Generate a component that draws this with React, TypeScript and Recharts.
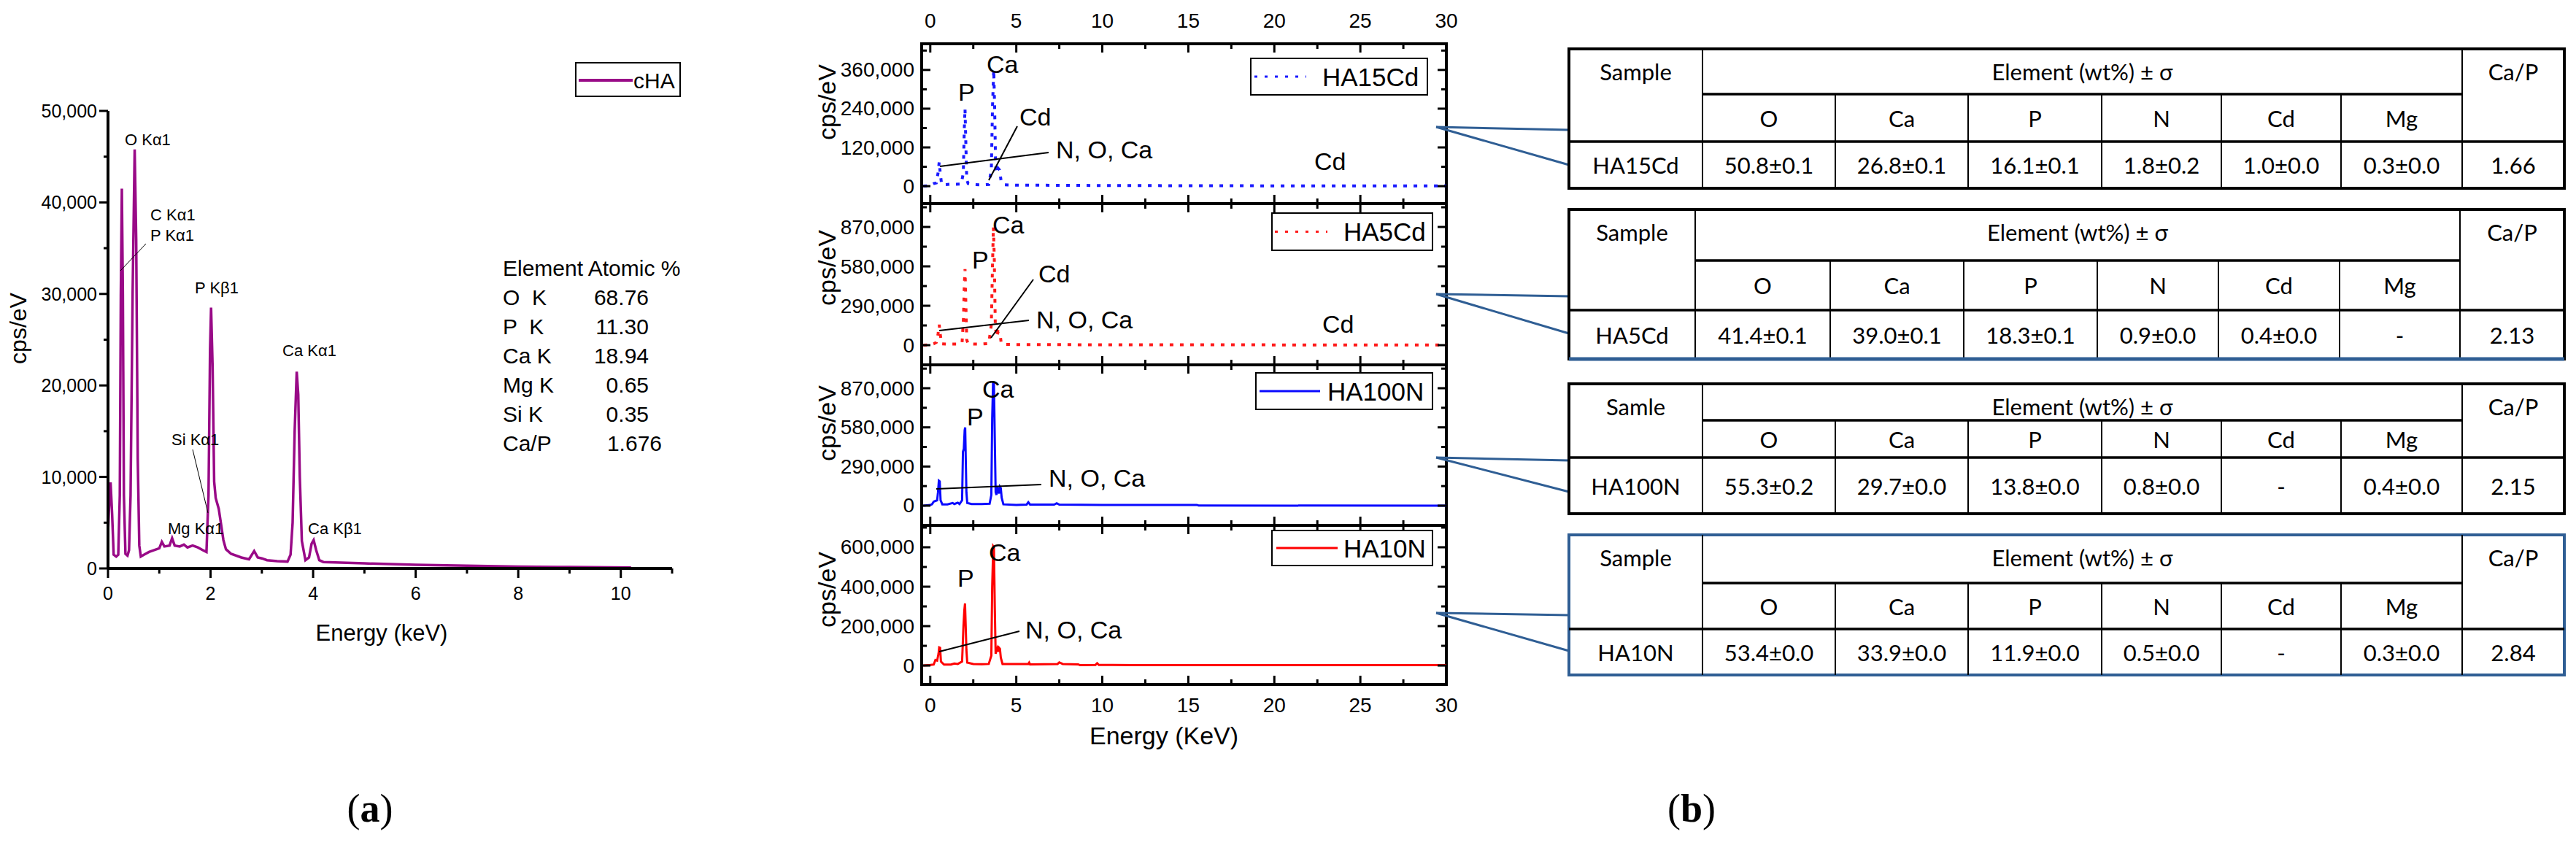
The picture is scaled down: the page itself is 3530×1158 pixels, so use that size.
import React from "react";
import { LineChart, Line, XAxis, YAxis, ReferenceArea } from "recharts";

const SANS = "'Liberation Sans', Arial, sans-serif";
const SERIF = "'Liberation Serif', 'Times New Roman', serif";
const TABLE_FONT = "Lato, 'Open Sans', sans-serif";
const PURPLE = "#990a87";
const STEEL = "#2f5e94";

// (a) cHA spectrum
const chaEnergy = [
  0, 0.03, 0.05, 0.08, 0.11, 0.16, 0.2, 0.23, 0.25, 0.27,
  0.29, 0.31, 0.34, 0.38, 0.41, 0.44, 0.48, 0.52, 0.55, 0.58,
  0.61, 0.64, 0.7, 0.8, 0.9, 1.0, 1.05, 1.1, 1.2, 1.25,
  1.3, 1.4, 1.48, 1.55, 1.65, 1.75, 1.85, 1.92, 1.96, 1.99,
  2.01, 2.04, 2.07, 2.1, 2.16, 2.2, 2.25, 2.3, 2.4, 2.6,
  2.75, 2.85, 2.92, 3.0, 3.1, 3.3, 3.5, 3.56, 3.6, 3.64,
  3.68, 3.71, 3.74, 3.78, 3.85, 3.92, 3.97, 4.01, 4.06, 4.12,
  4.2, 5.0, 6.0, 7.0, 8.0, 9.0, 10.2,
];
const chaCps = [
  4000, 8000, 9400, 6000, 1500, 1300, 1500, 8000, 30000, 41500,
  30000, 8000, 1600, 1400, 2000, 8000, 30000, 45800, 36000, 12000,
  2500, 1300, 1500, 1800, 2000, 2200, 2900, 2400, 2500, 3300,
  2500, 2400, 2600, 2300, 2500, 2300, 2000, 1800, 8000, 24000,
  28500, 22000, 9500, 7700, 6500, 5000, 3100, 2100, 1600, 1200,
  1000, 1900, 1200, 1100, 900, 800, 750, 1500, 5000, 15000,
  21500, 19000, 10000, 3000, 900, 1200, 2700, 3100, 2000, 900,
  700, 550, 400, 300, 200, 150, 100,
];
const chaXTicks = [0, 1, 2, 3, 4, 5, 6, 7, 8, 9, 10, 11];
const chaYTicks = [0, 5000, 10000, 15000, 20000, 25000, 30000, 35000, 40000, 45000, 50000];

const atomicElements = ["O  K", "P  K", "Ca K", "Mg K", "Si K", "Ca/P"];
const atomicValues = ["68.76", "11.30", "18.94", "0.65", "0.35", "1.676"];

// (b) spectra
const ha15Energy = [
  -0.4, 0, 0.2, 0.35, 0.45, 0.52, 0.58, 0.66, 0.9, 1.2, 1.5,
  1.8, 1.92, 1.98, 2.02, 2.06, 2.12, 2.2, 2.5, 3.0, 3.4,
  3.55, 3.62, 3.69, 3.74, 3.8, 3.88, 3.95, 4.03, 4.12, 4.3,
  5, 6, 8, 10, 15, 20, 25, 30,
];
const ha15Cps = [
  0, 2000, 8000, 10000, 40000, 75000, 40000, 6000, 5000, 6000, 6000,
  7000, 40000, 180000, 240000, 150000, 20000, 8000, 5000, 4000, 5000,
  50000, 250000, 360000, 250000, 60000, 40000, 55000, 50000, 15000, 4000,
  3000, 3000, 2500, 2000, 1500, 1000, 800, 600,
];

const ha5Energy = [
  -0.4, 0, 0.2, 0.35, 0.45, 0.52, 0.58, 0.66, 1.0, 1.5,
  1.85, 1.93, 1.98, 2.02, 2.06, 2.12, 2.2, 2.6, 3.0, 3.4,
  3.55, 3.62, 3.67, 3.72, 3.78, 3.85, 3.95, 4.05, 4.12, 4.3,
  6, 10, 20, 30,
];
const ha5Cps = [
  0, 2000, 10000, 20000, 80000, 150000, 80000, 10000, 8000, 8000,
  20000, 200000, 450000, 560000, 350000, 40000, 10000, 8000, 8000, 12000,
  150000, 600000, 870000, 650000, 150000, 60000, 100000, 90000, 20000, 5000,
  4000, 3000, 2000, 1500,
];

const ha100Energy = [
  -0.4, 0, 0.1, 0.2, 0.3, 0.4, 0.45, 0.5, 0.55, 0.6,
  0.7, 1.0, 1.3, 1.4, 1.6, 1.7, 1.85, 1.9, 1.95, 2.0,
  2.03, 2.07, 2.1, 2.15, 2.4, 3.0, 3.45, 3.55, 3.6, 3.65,
  3.7, 3.75, 3.8, 3.85, 3.9, 3.95, 4.0, 4.05, 4.1, 4.15,
  4.25, 5.0, 5.6, 5.7, 5.8, 7.2, 7.35, 7.5, 10, 15.5,
  15.6, 30,
];
const ha100Cps = [
  0, 5000, 10000, 30000, 35000, 40000, 100000, 185000, 180000, 40000,
  10000, 10000, 20000, 12000, 22000, 12000, 40000, 400000, 420000, 560000,
  580000, 300000, 100000, 20000, 12000, 12000, 15000, 80000, 650000, 910000,
  910000, 500000, 100000, 80000, 140000, 110000, 90000, 140000, 130000, 60000,
  10000, 6000, 8000, 25000, 8000, 8000, 18000, 8000, 6000, 6000,
  1000, 0,
];

const ha10Energy = [
  -0.4, 0, 0.2, 0.3, 0.4, 0.48, 0.52, 0.57, 0.62, 0.8,
  1.2, 1.4, 1.6, 1.85, 1.93, 1.98, 2.02, 2.06, 2.1, 2.15,
  2.5, 3.0, 3.4, 3.55, 3.6, 3.66, 3.7, 3.75, 3.8, 3.85,
  3.9, 3.95, 4.0, 4.05, 4.1, 4.2, 5.7, 5.75, 5.8, 7.4,
  7.5, 7.7, 8.6, 8.7, 9.6, 9.7, 9.8, 12, 30,
];
const ha10Cps = [
  0, 3000, 5000, 28000, 25000, 60000, 92000, 90000, 20000, 5000,
  5000, 10000, 8000, 20000, 200000, 280000, 315000, 200000, 80000, 15000,
  8000, 7000, 8000, 50000, 400000, 605000, 600000, 300000, 60000, 80000,
  90000, 70000, 90000, 85000, 40000, 8000, 8000, 15000, 6000, 8000,
  16000, 8000, 6000, 2000, 3000, 12000, 3000, 2000, 2000,
];

const bXTicks = [0, 2.5, 5, 7.5, 10, 12.5, 15, 17.5, 20, 22.5, 25, 27.5, 30];

const sampleNames = ["HA15Cd", "HA5Cd", "HA100N", "HA10N"];
const sampleHeaders = ["Sample", "Sample", "Samle", "Sample"];
const elementCols = ["O", "Ca", "P", "N", "Cd", "Mg"];
const wtRows = [
  ["50.8±0.1", "26.8±0.1", "16.1±0.1", "1.8±0.2", "1.0±0.0", "0.3±0.0"],
  ["41.4±0.1", "39.0±0.1", "18.3±0.1", "0.9±0.0", "0.4±0.0", "-"],
  ["55.3±0.2", "29.7±0.0", "13.8±0.0", "0.8±0.0", "-", "0.4±0.0"],
  ["53.4±0.0", "33.9±0.0", "11.9±0.0", "0.5±0.0", "-", "0.3±0.0"],
];
const caPRatios = ["1.66", "2.13", "2.15", "2.84"];

const bPanels = [
  { energy: ha15Energy, cps: ha15Cps, color: "#1a1aff", dashed: true, yMin: -54000, yMax: 441000, majors: [0, 120000, 240000, 360000], minors: [60000, 180000, 300000, 420000] },
  { energy: ha5Energy, cps: ha5Cps, color: "#ff1a1a", dashed: true, yMin: -145000, yMax: 1042000, majors: [0, 290000, 580000, 870000], minors: [145000, 435000, 725000, 1015000] },
  { energy: ha100Energy, cps: ha100Cps, color: "#0a0aff", dashed: false, yMin: -146000, yMax: 1043000, majors: [0, 290000, 580000, 870000], minors: [145000, 435000, 725000, 1015000] },
  { energy: ha10Energy, cps: ha10Cps, color: "#ff0000", dashed: false, yMin: -96000, yMax: 711000, majors: [0, 200000, 400000, 600000], minors: [100000, 300000, 500000, 700000] },
];

// layout of panel (b) frames
const B_FRAMES = [
  { top: 60, h: 219 },
  { top: 279, h: 221 },
  { top: 500, h: 220 },
  { top: 720, h: 218 },
];

const toRows = (e: number[], v: number[]) => e.map((x, i) => ({ e: x, v: v[i] }));

function ATickX({ x, y, payload }: any) {
  const v = payload.value;
  const major = v % 2 === 0;
  return (
    <g>
      <line x1={x} y1={y} x2={x} y2={y + (major ? 13 : 7)} stroke="#000" strokeWidth={3} />
      {major && v <= 10 && (
        <text x={x} y={y + 34} textAnchor="middle" dominantBaseline="central" fontFamily={SANS} fontSize={25}>
          {v}
        </text>
      )}
    </g>
  );
}

function ATickY({ x, y, payload }: any) {
  const v = payload.value;
  const major = v % 10000 === 0;
  return (
    <g>
      <line x1={x} y1={y} x2={x - (major ? 12 : 6)} y2={y} stroke="#000" strokeWidth={3} />
      {major && (
        <text x={x - 15} y={y} textAnchor="end" dominantBaseline="central" fontFamily={SANS} fontSize={25}>
          {v.toLocaleString("en-US")}
        </text>
      )}
    </g>
  );
}

function ChaChart() {
  const rows = toRows(chaEnergy, chaCps);
  return (
    <LineChart width={960} height={900} data={rows} margin={{ top: 152, right: 39, bottom: 61, left: 0 }}>
      <XAxis
        dataKey="e"
        type="number"
        domain={[0, 11]}
        allowDataOverflow
        ticks={chaXTicks}
        interval={0}
        height={60}
        tickSize={0}
        tickMargin={0}
        tickLine={false}
        axisLine={{ stroke: "#000", strokeWidth: 4 }}
        tick={(t: any) => <ATickX {...t} />}
      />
      <YAxis
        type="number"
        domain={[0, 50000]}
        allowDataOverflow
        ticks={chaYTicks}
        interval={0}
        width={148}
        tickSize={0}
        tickMargin={0}
        tickLine={false}
        axisLine={{ stroke: "#000", strokeWidth: 4 }}
        tick={(t: any) => <ATickY {...t} />}
      />
      <Line dataKey="v" type="linear" stroke={PURPLE} strokeWidth={3.5} dot={false} isAnimationActive={false} />
    </LineChart>
  );
}

function BXTick({ x, y, payload, h, showTop, showBottom }: any) {
  const v = payload.value;
  const major = v % 5 === 0;
  const len = major ? 12 : 7;
  return (
    <g>
      <line x1={x} y1={y} x2={x} y2={y - len} stroke="#000" strokeWidth={3} />
      <line x1={x} y1={y - h} x2={x} y2={y - h + len} stroke="#000" strokeWidth={3} />
      {showBottom && major && (
        <text x={x} y={y + 28} textAnchor="middle" dominantBaseline="central" fontFamily={SANS} fontSize={28}>
          {v}
        </text>
      )}
      {showTop && major && (
        <text x={x} y={y - h - 32} textAnchor="middle" dominantBaseline="central" fontFamily={SANS} fontSize={28}>
          {v}
        </text>
      )}
    </g>
  );
}

function BYTick({ x, y, payload, w, majors }: any) {
  const v = payload.value;
  const major = majors.includes(v);
  const len = major ? 12 : 7;
  return (
    <g>
      <line x1={x} y1={y} x2={x + len} y2={y} stroke="#000" strokeWidth={3} />
      <line x1={x + w} y1={y} x2={x + w - len} y2={y} stroke="#000" strokeWidth={3} />
      {major && (
        <text x={x - 10} y={y} textAnchor="end" dominantBaseline="central" fontFamily={SANS} fontSize={28}>
          {v.toLocaleString("en-US")}
        </text>
      )}
    </g>
  );
}

function EdsPanel({ idx }: { idx: number }) {
  const p = bPanels[idx];
  const f = B_FRAMES[idx];
  const rows = toRows(p.energy, p.cps);
  const yTicks = [...p.majors, ...p.minors].sort((a, b) => a - b);
  return (
    <div style={{ position: "absolute", left: 1080, top: f.top - 60 }}>
      <LineChart width={922} height={60 + f.h + 100} data={rows} margin={{ top: 60, right: 20, bottom: 0, left: 0 }}>
        <XAxis
          dataKey="e"
          type="number"
          domain={[-0.5, 30]}
          allowDataOverflow
          ticks={bXTicks}
          interval={0}
          height={100}
          tickSize={0}
          tickMargin={0}
          tickLine={false}
          axisLine={false}
          tick={(t: any) => <BXTick {...t} h={f.h} showTop={idx === 0} showBottom={idx === 3} />}
        />
        <YAxis
          type="number"
          domain={[p.yMin, p.yMax]}
          allowDataOverflow
          ticks={yTicks}
          interval={0}
          width={183}
          tickSize={0}
          tickMargin={0}
          tickLine={false}
          axisLine={false}
          tick={(t: any) => <BYTick {...t} w={719} majors={p.majors} />}
        />
        <ReferenceArea x1={-0.5} x2={30} y1={p.yMin} y2={p.yMax} fill="none" fillOpacity={0} stroke="#000" strokeWidth={4} ifOverflow="visible" />
        <Line
          dataKey="v"
          type="linear"
          stroke={p.color}
          strokeWidth={p.dashed ? 4 : 3}
          strokeDasharray={p.dashed ? "5 9" : undefined}
          dot={false}
          isAnimationActive={false}
        />
      </LineChart>
    </div>
  );
}

function T(props: any) {
  const { children, ...rest } = props;
  return (
    <text dominantBaseline="central" textAnchor="middle" {...rest}>
      {children}
    </text>
  );
}

// table geometry
const COLS_A = [2150, 2333, 2515, 2697, 2880, 3044, 3208, 3374, 3514];
const COLS_B = [2150, 2323, 2508, 2691, 2874, 3040, 3206, 3371, 3514];
const TABLE_COLS = [COLS_A, COLS_B, COLS_A, COLS_A];
const TABLE_ROWS = [
  [67, 129, 194, 258],
  [287, 357, 425, 492],
  [526, 576, 627, 704],
  [733, 799, 862, 925],
];

function EdsTable({ i }: { i: number }) {
  const xs = TABLE_COLS[i];
  const [t, s, d, b] = TABLE_ROWS[i];
  const L = xs[0];
  const R = xs[8];
  const outer = i === 3 ? STEEL : "#000";
  const fs = 31;
  return (
    <g fontFamily={TABLE_FONT}>
      <rect x={L} y={t} width={R - L} height={b - t} fill="#fff" stroke={outer} strokeWidth={4} />
      <line x1={xs[1]} y1={t} x2={xs[1]} y2={b} stroke="#000" strokeWidth={2} />
      <line x1={xs[7]} y1={t} x2={xs[7]} y2={b} stroke="#000" strokeWidth={2} />
      {xs.slice(2, 7).map((x) => (
        <line key={x} x1={x} y1={s} x2={x} y2={b} stroke="#000" strokeWidth={2} />
      ))}
      <line x1={xs[1]} y1={s} x2={xs[7]} y2={s} stroke="#000" strokeWidth={3.5} />
      <line x1={L} y1={d} x2={R} y2={d} stroke="#000" strokeWidth={3.5} />
      {i === 1 && <line x1={L} y1={b} x2={R} y2={b} stroke={STEEL} strokeWidth={5} />}
      <T x={(L + xs[1]) / 2} y={t + 31} fontSize={fs}>{sampleHeaders[i]}</T>
      <T x={(xs[1] + xs[7]) / 2} y={t + 31} fontSize={fs}>Element (wt%) ± σ</T>
      <T x={(xs[7] + R) / 2} y={t + 31} fontSize={fs}>Ca/P</T>
      {elementCols.map((el, k) => (
        <T key={el} x={(xs[k + 1] + xs[k + 2]) / 2} y={(s + d) / 2} fontSize={fs}>{el}</T>
      ))}
      <T x={(L + xs[1]) / 2} y={(d + b) / 2} fontSize={fs}>{sampleNames[i]}</T>
      {wtRows[i].map((v, k) => (
        <T key={k} x={(xs[k + 1] + xs[k + 2]) / 2} y={(d + b) / 2} fontSize={fs}>{v}</T>
      ))}
      <T x={(xs[7] + R) / 2} y={(d + b) / 2} fontSize={fs}>{caPRatios[i]}</T>
    </g>
  );
}

const B_LEGENDS = [
  { x: 1714, y: 80, w: 242, h: 50, x1: 1719, x2: 1790, tx: 1812 },
  { x: 1743, y: 292, w: 220, h: 51, x1: 1747, x2: 1819, tx: 1841 },
  { x: 1721, y: 511, w: 242, h: 50, x1: 1726, x2: 1809, tx: 1819 },
  { x: 1743, y: 727, w: 220, h: 48, x1: 1749, x2: 1833, tx: 1841 },
];

const CONNECTORS = [
  [174, 178, 226],
  [403, 406, 457],
  [627, 631, 674],
  [840, 843, 892],
];

function Overlay() {
  const ann = { fontFamily: SANS, fontSize: 34 };
  const small = { fontFamily: SANS, fontSize: 22 };
  return (
    <svg width={3530} height={1158} style={{ position: "absolute", left: 0, top: 0 }}>
      {/* panel (a) titles */}
      <text x={25} y={450} transform="rotate(-90 25 450)" textAnchor="middle" dominantBaseline="central" fontFamily={SANS} fontSize={32}>
        cps/eV
      </text>
      <text x={523} y={867} textAnchor="middle" dominantBaseline="central" fontFamily={SANS} fontSize={31}>
        Energy (keV)
      </text>
      {/* cHA legend */}
      <rect x={789} y={86} width={143} height={46} fill="#fff" stroke="#000" strokeWidth={2} />
      <line x1={793} y1={110} x2={867} y2={110} stroke={PURPLE} strokeWidth={4} />
      <text x={868} y={121} fontFamily={SANS} fontSize={30}>cHA</text>
      {/* peak labels (a) */}
      <text x={171} y={199} {...small}>O Kα1</text>
      <text x={206} y={302} {...small}>C Kα1</text>
      <text x={206} y={330} {...small}>P Kα1</text>
      <line x1={200} y1={334} x2={165} y2={371} stroke="#000" strokeWidth={1} />
      <text x={267} y={402} {...small}>P Kβ1</text>
      <text x={387} y={488} {...small}>Ca Kα1</text>
      <text x={235} y={610} {...small}>Si Kα1</text>
      <line x1={264} y1={616} x2={285} y2={703} stroke="#000" strokeWidth={1} />
      <text x={230} y={732} {...small}>Mg Kα1</text>
      <text x={422} y={732} {...small}>Ca Kβ1</text>
      {/* atomic % */}
      <text x={689} y={378} fontFamily={SANS} fontSize={30}>Element Atomic %</text>
      {atomicElements.map((el, k) => (
        <text key={el} x={689} y={418 + k * 40} fontFamily={SANS} fontSize={30} xmlSpace="preserve" style={{ whiteSpace: "pre" }}>
          {el}
        </text>
      ))}
      {atomicValues.map((v, k) => (
        <text key={k} x={k === 5 ? 907 : 889} y={418 + k * 40} textAnchor="end" fontFamily={SANS} fontSize={30}>
          {v}
        </text>
      ))}

      {/* panel (b) titles */}
      {[140, 367, 580, 808].map((y) => (
        <text key={y} x={1133} y={y} transform={`rotate(-90 1133 ${y})`} textAnchor="middle" dominantBaseline="central" fontFamily={SANS} fontSize={34}>
          cps/eV
        </text>
      ))}
      <text x={1595} y={1008} textAnchor="middle" dominantBaseline="central" fontFamily={SANS} fontSize={34}>
        Energy (KeV)
      </text>
      {/* peak labels (b) */}
      <text x={1352} y={100} {...ann}>Ca</text>
      <text x={1313} y={138} {...ann}>P</text>
      <text x={1397} y={172} {...ann}>Cd</text>
      <text x={1447} y={217} {...ann}>N, O, Ca</text>
      <text x={1801} y={233} {...ann}>Cd</text>
      <line x1={1288} y1={228} x2={1437} y2={209} stroke="#000" strokeWidth={2} />
      <line x1={1355} y1={247} x2={1394} y2={173} stroke="#000" strokeWidth={2} />

      <text x={1360} y={320} {...ann}>Ca</text>
      <text x={1332} y={368} {...ann}>P</text>
      <text x={1423} y={387} {...ann}>Cd</text>
      <text x={1420} y={450} {...ann}>N, O, Ca</text>
      <text x={1812} y={456} {...ann}>Cd</text>
      <line x1={1287} y1={453} x2={1410} y2={439} stroke="#000" strokeWidth={2} />
      <line x1={1358} y1={463} x2={1416} y2={383} stroke="#000" strokeWidth={2} />

      <text x={1346} y={545} {...ann}>Ca</text>
      <text x={1325} y={583} {...ann}>P</text>
      <text x={1437} y={667} {...ann}>N, O, Ca</text>
      <line x1={1283} y1={670} x2={1427} y2={664} stroke="#000" strokeWidth={2} />

      <text x={1355} y={769} {...ann}>Ca</text>
      <text x={1312} y={804} {...ann}>P</text>
      <text x={1405} y={875} {...ann}>N, O, Ca</text>
      <line x1={1287} y1={893} x2={1397} y2={865} stroke="#000" strokeWidth={2} />

      {/* legends (b) */}
      {B_LEGENDS.map((g, i) => (
        <g key={i}>
          <rect x={g.x} y={g.y} width={g.w} height={g.h} fill="#fff" stroke="#000" strokeWidth={2} />
          <line
            x1={g.x1}
            y1={g.y + g.h / 2}
            x2={g.x2}
            y2={g.y + g.h / 2}
            stroke={bPanels[i].color}
            strokeWidth={bPanels[i].dashed ? 3 : 3}
            strokeDasharray={bPanels[i].dashed ? "4 10" : undefined}
          />
          <text x={g.tx} y={g.y + g.h / 2} dominantBaseline="central" fontFamily={SANS} fontSize={35}>
            {sampleNames[i]}
          </text>
        </g>
      ))}

      {/* connectors */}
      {CONNECTORS.map(([y0, y1, y2], i) => (
        <g key={i} stroke={STEEL} strokeWidth={3}>
          <line x1={1968} y1={y0} x2={2150} y2={y1} />
          <line x1={1968} y1={y0} x2={2150} y2={y2} />
        </g>
      ))}

      {/* tables */}
      {[0, 1, 2, 3].map((i) => (
        <EdsTable key={i} i={i} />
      ))}

      {/* panel tags */}
      <text x={507} y={1108} textAnchor="middle" dominantBaseline="central" fontFamily={SERIF} fontSize={54}>
        (<tspan fontWeight="bold">a</tspan>)
      </text>
      <text x={2318} y={1108} textAnchor="middle" dominantBaseline="central" fontFamily={SERIF} fontSize={54}>
        (<tspan fontWeight="bold">b</tspan>)
      </text>
    </svg>
  );
}

export default function App() {
  return (
    <div style={{ position: "absolute", left: 0, top: 0, width: 3530, height: 1158, background: "#fff", overflow: "hidden" }}>
      <div style={{ position: "absolute", left: 0, top: 0 }}>
        <ChaChart />
      </div>
      {bPanels.map((_, i) => (
        <EdsPanel key={i} idx={i} />
      ))}
      <Overlay />
    </div>
  );
}
